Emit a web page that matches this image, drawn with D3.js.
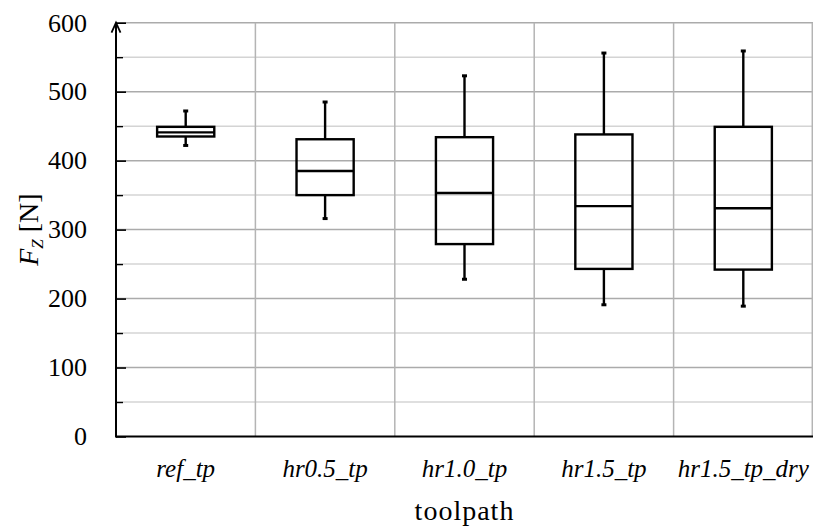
<!DOCTYPE html>
<html>
<head>
<meta charset="utf-8">
<script src="https://cdn.jsdelivr.net/npm/d3@7"></script>
<style>
  html, body { margin: 0; padding: 0; background: #fff; }
  svg { display: block; }
  text { font-family: "Liberation Serif", "DejaVu Serif", serif; fill: #000; }
</style>
</head>
<body>
<svg id="chart" width="813" height="532"></svg>
<script>
// ---- data ----
const categories = ["ref_tp", "hr0.5_tp", "hr1.0_tp", "hr1.5_tp", "hr1.5_tp_dry"];
const whiskerLow  = [422, 316, 228, 191, 189];
const q1          = [435, 350, 279, 243, 242];
const median      = [441, 385, 353, 334, 331];
const q3          = [449, 431, 434, 438, 449];
const whiskerHigh = [472, 485, 523, 556, 559];
const majorTicks = [0, 100, 200, 300, 400, 500, 600];
const minorTicks = [50, 150, 250, 350, 450, 550];
const xTitle = "toolpath";

// ---- layout ----
const svg = d3.select("#chart");
const pLeft = 116, pRight = 813, pTop = 22.7, pBottom = 436.5;

const x = d3.scaleBand().domain(categories).range([pLeft, pRight]).padding(0);
const y = d3.scaleLinear().domain([0, 600]).range([pBottom, pTop]);

// minor gridlines
svg.append("g")
  .selectAll("line").data(minorTicks).join("line")
  .attr("x1", pLeft).attr("x2", pRight)
  .attr("y1", d => y(d)).attr("y2", d => y(d))
  .attr("stroke", "#d4d4d4").attr("stroke-width", 1.5);

// major gridlines
svg.append("g")
  .selectAll("line").data(majorTicks.filter(d => d > 0)).join("line")
  .attr("x1", pLeft).attr("x2", pRight)
  .attr("y1", d => y(d)).attr("y2", d => y(d))
  .attr("stroke", "#ababab").attr("stroke-width", 1.5);

// vertical gridlines at category boundaries
svg.append("g")
  .selectAll("line").data(categories).join("line")
  .attr("x1", d => Math.min(x(d) + x.bandwidth(), 812.3))
  .attr("x2", d => Math.min(x(d) + x.bandwidth(), 812.3))
  .attr("y1", y(600)).attr("y2", y(0))
  .attr("stroke", "#b4b4b4").attr("stroke-width", 1.5);

// y axis labels + major ticks (inside)
const yAxis = svg.append("g")
  .attr("transform", `translate(${pLeft},0)`)
  .call(d3.axisLeft(y).tickValues(majorTicks).tickSize(-10).tickPadding(29).tickFormat(d3.format("d")));
yAxis.select(".domain").remove();
yAxis.selectAll(".tick line").attr("stroke", "#000").attr("stroke-width", 1.6);
yAxis.selectAll(".tick text")
  .style("font-family", "'Liberation Serif', serif")
  .style("font-size", "26px");

// minor ticks
const yMinor = svg.append("g")
  .attr("transform", `translate(${pLeft},0)`)
  .call(d3.axisLeft(y).tickValues(minorTicks).tickSize(-7).tickFormat(""));
yMinor.select(".domain").remove();
yMinor.selectAll(".tick line").attr("stroke", "#000").attr("stroke-width", 1.4);

// x axis line
svg.append("line")
  .attr("x1", pLeft).attr("x2", pRight)
  .attr("y1", y(0)).attr("y2", y(0))
  .attr("stroke", "#000").attr("stroke-width", 2);

// y axis line with arrow
svg.append("line")
  .attr("x1", pLeft).attr("x2", pLeft)
  .attr("y1", y(0) + 1).attr("y2", y(600))
  .attr("stroke", "#000").attr("stroke-width", 2);
svg.append("path")
  .attr("d", `M${pLeft - 4.5},${y(600) + 10} L${pLeft},${y(600)} L${pLeft + 4.5},${y(600) + 10}`)
  .attr("fill", "none").attr("stroke", "#000").attr("stroke-width", 1.8);

// category labels
const xAxis = svg.append("g")
  .attr("transform", `translate(0,${y(0)})`)
  .call(d3.axisBottom(x).tickSize(0).tickPadding(0));
xAxis.select(".domain").remove();
xAxis.selectAll(".tick text")
  .attr("dy", null).attr("y", 40)
  .style("font-family", "'Liberation Serif', serif")
  .style("font-style", "italic")
  .style("font-size", "25px");

// boxes
const boxW = x.bandwidth() * 0.41;
const capW = 5;
const g = svg.append("g").attr("stroke", "#000").attr("fill", "none");
categories.forEach((c, i) => {
  const cx = x(c) + x.bandwidth() / 2;
  g.append("line").attr("x1", cx).attr("x2", cx)
    .attr("y1", y(q3[i])).attr("y2", y(whiskerHigh[i])).attr("stroke-width", 2.4);
  g.append("line").attr("x1", cx).attr("x2", cx)
    .attr("y1", y(q1[i])).attr("y2", y(whiskerLow[i])).attr("stroke-width", 2.4);
  g.append("line").attr("x1", cx - capW / 2).attr("x2", cx + capW / 2)
    .attr("y1", y(whiskerHigh[i])).attr("y2", y(whiskerHigh[i])).attr("stroke-width", 3);
  g.append("line").attr("x1", cx - capW / 2).attr("x2", cx + capW / 2)
    .attr("y1", y(whiskerLow[i])).attr("y2", y(whiskerLow[i])).attr("stroke-width", 3);
  g.append("rect")
    .attr("x", cx - boxW / 2).attr("width", boxW)
    .attr("y", y(q3[i])).attr("height", y(q1[i]) - y(q3[i]))
    .attr("stroke-width", 2.4);
  g.append("line").attr("x1", cx - boxW / 2).attr("x2", cx + boxW / 2)
    .attr("y1", y(median[i])).attr("y2", y(median[i])).attr("stroke-width", 2.4);
});

// axis titles
svg.append("text")
  .attr("x", (pLeft + pRight) / 2).attr("y", 520)
  .attr("text-anchor", "middle")
  .style("font-size", "28px").style("letter-spacing", "1px")
  .text(xTitle);

const yt = svg.append("text")
  .attr("transform", `translate(38,${(pTop + pBottom) / 2}) rotate(-90)`)
  .attr("text-anchor", "middle")
  .style("font-size", "28px");
yt.append("tspan").style("font-style", "italic").text("F");
yt.append("tspan").attr("dy", 5).style("font-size", "17px").style("font-style", "italic").text("Z");
yt.append("tspan").attr("dy", -5).text(" [N]");
</script>
</body>
</html>
